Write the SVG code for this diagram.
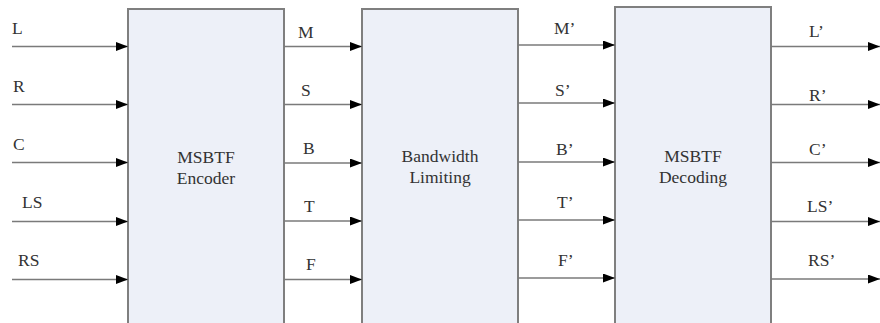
<svg xmlns="http://www.w3.org/2000/svg" width="880" height="323" viewBox="0 0 880 323" font-family="'Liberation Serif', 'DejaVu Serif', serif">
<defs>
<marker id="ah" markerUnits="userSpaceOnUse" markerWidth="12" markerHeight="9" refX="12" refY="4.5" orient="auto">
<path d="M0,0 L12,4.5 L0,9 Z" fill="#000"/>
</marker>
<style>
.box{fill:#edf0f8;stroke:#7f7f7f;stroke-width:2}
.ln{stroke:#7a7a7a;stroke-width:1.4;fill:none;marker-end:url(#ah)}
text{font-family:'Liberation Serif','DejaVu Serif',serif;font-size:17.5px;fill:#333}
.c{text-anchor:middle}
</style>
</defs>
<rect width="880" height="323" fill="#fff"/>
<g id="encoder">
<rect class="box" x="128" y="9" width="156" height="330"/>
<text class="c" x="206" y="163">MSBTF</text>
<text class="c" x="206" y="184">Encoder</text>
</g>
<g id="bandwidth">
<rect class="box" x="362" y="9" width="156" height="330"/>
<text class="c" x="440" y="162">Bandwidth</text>
<text class="c" x="440" y="183">Limiting</text>
</g>
<g id="decoding">
<rect class="box" x="615" y="7" width="156" height="330"/>
<text class="c" x="693" y="162">MSBTF</text>
<text class="c" x="693" y="183">Decoding</text>
</g>
<g id="connectors">
<line class="ln" x1="12" y1="46.5" x2="128" y2="46.5"/>
<line class="ln" x1="12" y1="104.5" x2="128" y2="104.5"/>
<line class="ln" x1="12" y1="162.5" x2="128" y2="162.5"/>
<line class="ln" x1="12" y1="221.5" x2="128" y2="221.5"/>
<line class="ln" x1="12" y1="279.5" x2="128" y2="279.5"/>
<line class="ln" x1="284" y1="46.5" x2="362" y2="46.5"/>
<line class="ln" x1="284" y1="104.5" x2="362" y2="104.5"/>
<line class="ln" x1="284" y1="163" x2="362" y2="163"/>
<line class="ln" x1="284" y1="221" x2="362" y2="221"/>
<line class="ln" x1="284" y1="279.5" x2="362" y2="279.5"/>
<line class="ln" x1="518" y1="45" x2="615" y2="45"/>
<line class="ln" x1="518" y1="103" x2="615" y2="103"/>
<line class="ln" x1="518" y1="162" x2="615" y2="162"/>
<line class="ln" x1="518" y1="220" x2="615" y2="220"/>
<line class="ln" x1="518" y1="278" x2="615" y2="278"/>
<line class="ln" x1="771" y1="46.5" x2="880" y2="46.5"/>
<line class="ln" x1="771" y1="104.5" x2="880" y2="104.5"/>
<line class="ln" x1="771" y1="162.5" x2="880" y2="162.5"/>
<line class="ln" x1="771" y1="221.5" x2="880" y2="221.5"/>
<line class="ln" x1="771" y1="279" x2="880" y2="279"/>
</g>
<g id="labels">
<text x="12" y="34">L</text>
<text x="13" y="92">R</text>
<text x="13" y="150">C</text>
<text x="22" y="208">LS</text>
<text x="18" y="266">RS</text>
<text x="298" y="38">M</text>
<text x="301" y="96">S</text>
<text x="303" y="154">B</text>
<text x="304" y="212">T</text>
<text x="306" y="270">F</text>
<text x="554" y="34">M’</text>
<text x="555" y="96">S’</text>
<text x="556" y="155">B’</text>
<text x="557" y="208">T’</text>
<text x="558" y="266">F’</text>
<text x="809" y="37">L’</text>
<text x="809" y="101">R’</text>
<text x="809" y="155">C’</text>
<text x="807" y="212">LS’</text>
<text x="808" y="266">RS’</text>
</g>
</svg>
